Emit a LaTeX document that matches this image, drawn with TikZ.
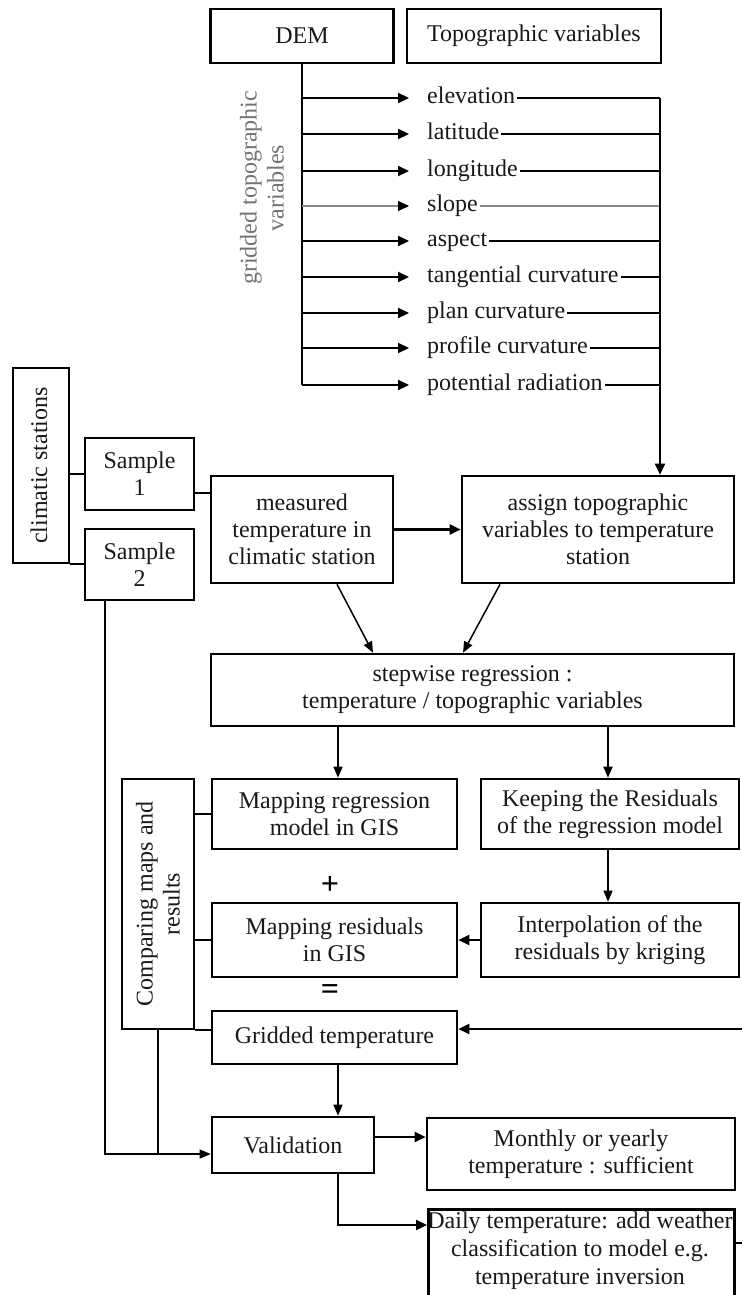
\documentclass[tikz,border=0pt]{standalone}
\usepackage{fontspec}
\setmainfont{Liberation Serif}
\usetikzlibrary{arrows.meta}
\begin{document}
\begin{tikzpicture}[x=1pt,y=-1pt,
  txt/.style={font=\fontsize{24}{27}\selectfont, text=black!90},
  box/.style={txt, draw=black, line width=2.6pt, inner sep=2pt, align=center},
  lab/.style={txt, anchor=west, inner sep=2pt, text height=16pt, text depth=5pt},
  rot/.style={txt, rotate=90, align=center, inner sep=0pt},
  sym/.style={font=\fontsize{32}{32}\selectfont\bfseries, text=black, inner sep=0pt},
  conn/.style={line width=2.2pt},
  arr/.style={conn, -{Triangle[length=11pt,width=10pt]}},
  thinarr/.style={line width=1.5pt, -{Triangle[length=11pt,width=9pt]}},
  grayline/.style={line width=1.2pt, draw=black!45},
  grayarr/.style={grayline, -{Triangle[length=11pt,width=10pt,black]}}]
\clip (0,0) rectangle (742,1295);
\fill[white] (0,0) rectangle (742,1295);

% top boxes
\node[box, minimum width=183pt, minimum height=54pt] (DEM) at (302,36) {DEM};
\node[box, minimum width=254pt, minimum height=54pt] (topo) at (534,36) {Topographic variables};
\node[rot, text=black!55] (gtv) at (262,188) {gridded topographic\\variables};

% labels
\node[lab] (l1) at (425,98) {elevation};
\node[lab] (l2) at (425,134) {latitude};
\node[lab] (l3) at (425,171) {longitude};
\node[lab] (l4) at (425,206) {slope};
\node[lab] (l5) at (425,241) {aspect};
\node[lab] (l6) at (425,277) {tangential curvature};
\node[lab] (l7) at (425,313) {plan curvature};
\node[lab] (l8) at (425,348) {profile curvature};
\node[lab] (l9) at (425,385) {potential radiation};
\coordinate (rv) at (660,98);

% left side
\node[box, minimum width=56pt, minimum height=195pt] (clim) at (41,465.5) {};
\node[rot] (climtxt) at ([xshift=-2pt]clim.center) {climatic stations};
\node[box, minimum width=109pt, minimum height=72pt] (s1) at (139.5,474) {Sample\\1};
\node[box, minimum width=109pt, minimum height=71pt] (s2) at (139.5,564.5) {Sample\\2};

% middle
\node[box, minimum width=182pt, minimum height=107pt] (meas) at (302,529.5) {measured\\temperature in\\climatic station};
\node[box, minimum width=272pt, minimum height=107pt] (assign) at (598,529.5) {assign topographic\\variables to temperature\\station};
\node[box, minimum width=523pt, minimum height=72pt] (step) at (472.5,690) {stepwise regression :\\temperature / topographic variables};
\node[box, minimum width=245pt, minimum height=70pt] (mapreg) at (334.5,814) {Mapping regression\\model in GIS};
\node[box, minimum width=258pt, minimum height=70pt] (keep) at (610,814) {Keeping the Residuals\\of the regression model};
\node[box, minimum width=72pt, minimum height=250pt] (comp) at (158,904) {};
\node[rot] (comptxt) at (comp.center) {Comparing maps and\\results};
\node[sym] (plus) at (330,885) {+};
\node[box, minimum width=245pt, minimum height=74pt] (mapres) at (334.5,940) {Mapping residuals\\in GIS};
\node[box, minimum width=258pt, minimum height=74pt] (interp) at (610,940) {Interpolation of the\\residuals by kriging};
\node[sym] (eq) at (330,992) {=};
\node[box, minimum width=245pt, minimum height=53pt] (grid) at (334.5,1037.5) {Gridded temperature};
\node[box, minimum width=162pt, minimum height=56pt] (valid) at (293,1145) {Validation};
\node[box, minimum width=308pt, minimum height=72pt] (month) at (581,1154) {Monthly or yearly\\temperature : sufficient};
\node[box, minimum width=306pt, minimum height=110pt, anchor=north west] (daily) at (427,1208) {};
\node[txt, align=center, font=\fontsize{24}{28}\selectfont, inner sep=0pt] (dailytxt) at (580,1251) {Daily temperature: add weather\\classification to model e.g.\\temperature inversion};
\coordinate (rin) at (742,1029);
\coordinate (vx) at (338,1173);
\coordinate (dstub) at (742,1243);
\coordinate (vj) at ([yshift=-9pt]valid.west);

% DEM branches
\draw[conn] (DEM.south) -- (DEM.south |- l9.west);
\foreach \n in {l1,l2,l3,l5,l6,l7,l8,l9}{
  \draw[arr] (DEM.south |- \n.west) -- ([xshift=-16pt]\n.west);
  \draw[conn] (\n.east) -- (rv |- \n.east);
}
\draw[grayarr] (DEM.south |- l4.west) -- ([xshift=-16pt]l4.west);
\draw[grayline] (l4.east) -- (rv |- l4.east);
\draw[arr] (rv) -- (rv |- assign.north);

% stations
\draw[conn] (clim.east |- s1.west) -- (s1.west);
\draw[conn] (clim.south east) -- (clim.south east -| s2.west);
\draw[conn] ([yshift=-19pt]s1.east) -- ([yshift=-19pt]s1.east -| meas.west);
\draw[arr] (meas.east) -- (assign.west);
\draw[thinarr] ([xshift=35pt]meas.south) -- ([xshift=-99.5pt]step.north);
\draw[thinarr] ([xshift=-98pt]assign.south) -- ([xshift=-9.5pt]step.north);
\draw[thinarr] ([xshift=3.5pt]mapreg.north |- step.south) -- ([xshift=3.5pt]mapreg.north);
\draw[thinarr] ([xshift=-2pt]keep.north |- step.south) -- ([xshift=-2pt]keep.north);
\draw[thinarr] ([xshift=-2pt]keep.south) -- ([xshift=-2pt]interp.north);
\draw[arr] (interp.west) -- (mapres.east);
\draw[conn] (comp.east |- mapreg.west) -- (mapreg.west);
\draw[conn] (comp.east |- mapres.west) -- (mapres.west);
\draw[conn] (comp.south east) -- (comp.south east -| grid.west);
\draw[arr] (rin) -- (rin -| grid.east);
\draw[thinarr] ([xshift=3.5pt]grid.south) -- ([xshift=3.5pt]grid.south |- valid.north);
\draw[thinarr] ([xshift=-34.5pt]s2.south) |- (vj);
\draw[line width=1.5pt] (comp.south) -- (comp.south |- vj);
\draw[arr] ([yshift=8pt]valid.east) -- ([yshift=8pt]valid.east -| month.west);
\draw[arr] (vx) |- ([yshift=-17pt]daily.north west);
\draw[conn] (dstub -| daily.east) -- (dstub);
\end{tikzpicture}
\end{document}
